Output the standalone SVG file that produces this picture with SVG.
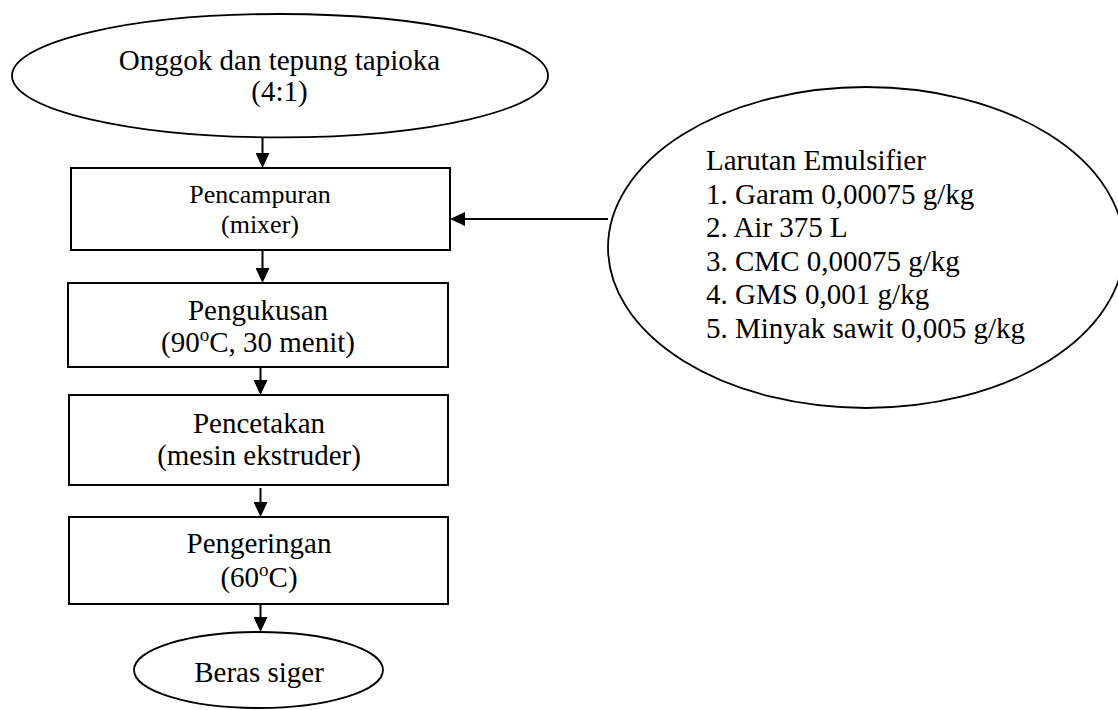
<svg xmlns="http://www.w3.org/2000/svg" width="1118" height="710" viewBox="0 0 1118 710">
<defs>
<marker id="arr" markerUnits="userSpaceOnUse" markerWidth="15" markerHeight="14" refX="7" refY="7" orient="auto">
<path d="M0,0 L15,7 L0,14 z" fill="#000"/>
</marker>
<style>
.shape{fill:#fff;stroke:#000;stroke-width:2}
.ell{fill:#fff;stroke:#000;stroke-width:1.8}
.t{font-family:"Liberation Serif","Times New Roman",serif;font-size:29px;fill:#000;text-anchor:middle}
.t26{font-size:26px}
.tl{text-anchor:start}
.conn{stroke:#000;stroke-width:2;fill:none;marker-end:url(#arr)}
</style>
</defs>
<rect width="1118" height="710" fill="#fff"/>
<g id="connectors">
<line class="conn" x1="262.5" y1="137.5" x2="262.5" y2="160"/>
<line class="conn" x1="262.5" y1="250" x2="262.5" y2="275"/>
<line class="conn" x1="260.5" y1="367" x2="260.5" y2="387"/>
<line class="conn" x1="260.5" y1="488" x2="260.5" y2="509"/>
<line class="conn" x1="260.5" y1="604" x2="260.5" y2="624"/>
<line class="conn" x1="608" y1="219" x2="458" y2="219"/>
</g>
<g id="start">
<ellipse class="ell" cx="280" cy="75.7" rx="268" ry="61.7"/>
<text class="t" x="279.5" y="70">Onggok dan tepung tapioka</text>
<text class="t" x="279.5" y="101">(4:1)</text>
</g>
<g id="pencampuran">
<rect class="shape" x="71" y="168" width="379" height="82"/>
<text class="t t26" x="260" y="202.5">Pencampuran</text>
<text class="t t26" x="260" y="233">(mixer)</text>
</g>
<g id="pengukusan">
<rect class="shape" x="68" y="283" width="380" height="84"/>
<text class="t" x="258" y="320">Pengukusan</text>
<text class="t" x="258" y="352">(90<tspan font-size="19" dy="-11">o</tspan><tspan dy="11">C, 30 menit)</tspan></text>
</g>
<g id="pencetakan">
<rect class="shape" x="69" y="395" width="379" height="90"/>
<text class="t" x="259" y="433">Pencetakan</text>
<text class="t" x="259" y="465">(mesin ekstruder)</text>
</g>
<g id="pengeringan">
<rect class="shape" x="69" y="517" width="379" height="87"/>
<text class="t" x="259" y="553">Pengeringan</text>
<text class="t" x="259" y="586.5">(60<tspan font-size="19" dy="-11">o</tspan><tspan dy="11">C)</tspan></text>
</g>
<g id="beras-siger">
<ellipse class="ell" cx="258.5" cy="670" rx="124.5" ry="38"/>
<text class="t" x="259" y="681.5">Beras siger</text>
</g>
<g id="larutan-emulsifier">
<ellipse class="ell" cx="866" cy="247.5" rx="258" ry="160.5"/>
<text class="t tl" x="706" y="170">Larutan Emulsifier</text>
<text class="t tl" x="706" y="203.6">1. Garam 0,00075 g/kg</text>
<text class="t tl" x="706" y="237.2">2. Air 375 L</text>
<text class="t tl" x="706" y="270.8">3. CMC 0,00075 g/kg</text>
<text class="t tl" x="706" y="304.4">4. GMS 0,001 g/kg</text>
<text class="t tl" x="706" y="338">5. Minyak sawit 0,005 g/kg</text>
</g>
</svg>
